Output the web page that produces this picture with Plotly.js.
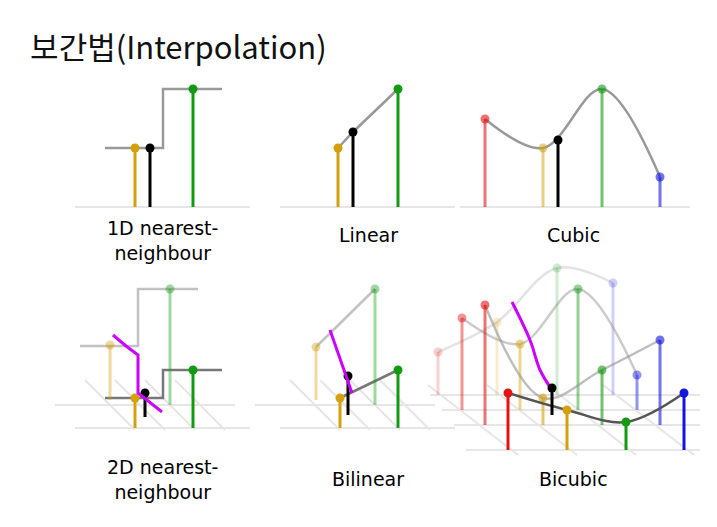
<!DOCTYPE html>
<html><head><meta charset="utf-8">
<script src="https://cdn.plot.ly/plotly-3.0.1.min.js"></script>
<style>body{margin:0}</style></head>
<body><div id="plot" style="width:717px;height:527px"></div>
<script>
// colours
var YEL = "#d4a00c", GRN = "#139a13", RED = "#e31414", BLU = "#1414e0", BLK = "#000", MAG = "#cc00ff", GRY = "#999";

// ---- 1D panels: stem x, top, colour ----
var nnX = [135, 150, 193], nnTop = [148, 148, 89], nnCol = [YEL, BLK, GRN];
var nnStepX = [105, 163, 163, 222], nnStepY = [148, 148, 89, 89];

var linX = [338, 353, 398], linTop = [148, 132, 89], linCol = [YEL, BLK, GRN];

var cubX = [485, 543, 558, 602, 660], cubTop = [119, 148, 140, 89, 177];
var cubCol = [RED, YEL, BLK, GRN, BLU], cubOp = [0.6, 0.5, 1, 0.6, 0.6];
var cubCurveX = [485, 543, 602, 660], cubCurveY = [119, 148, 89, 177];

// ---- 2D nearest ----
var n2X = [110, 170, 135, 193, 145], n2Base = [400, 405, 428, 428, 417], n2Top = [345, 289, 398, 370, 393];
var n2Col = [YEL, GRN, YEL, GRN, BLK], n2Op = [0.4, 0.4, 1, 1, 1];
var n2StepBackX = [80, 138, 138, 198], n2StepBackY = [346, 346, 289, 289];
var n2StepFrontX = [105, 163, 163, 222], n2StepFrontY = [398, 398, 370, 370];
var n2MagX = [113, 126, 138, 138, 162], n2MagY = [335, 346, 355, 393, 412];

// ---- bilinear ----
var blX = [316, 375, 340, 398, 348], blBase = [400, 405, 428, 428, 415], blTop = [347, 289, 398, 370, 376];
var blCol = [YEL, GRN, YEL, GRN, BLK], blOp = [0.4, 0.4, 1, 1, 1];
var blMagX = [330, 352], blMagY = [330, 393];

// ---- bicubic: 4 rows x 4 columns ----
var bcX = [[438, 497, 557, 613], [462, 520, 578, 637], [485, 543, 602, 660], [508, 567, 626, 684]];
var bcTop = [[352, 322, 268, 283], [318, 344, 289, 375], [305, 398, 370, 340], [393, 410, 422, 393]];
var bcBase = [395, 410, 425, 450];
var bcCol = [RED, YEL, GRN, BLU], bcOp = [0.2, 0.45, 0.6, 1];
var bcMagX = [512, 530, 540, 552], bcMagY = [302, 340, 370, 390];

var traces = [];
function line(x, y, color, width, op, shape) {
  traces.push({x: x, y: y, mode: "lines", line: {color: color, width: width, shape: shape || "linear", smoothing: 1},
    opacity: op == null ? 1 : op, hoverinfo: "skip"});
}
function stems(xs, base, tops, cols, ops) {
  for (var i = 0; i < xs.length; i++) {
    var b = Array.isArray(base) ? base[i] : base;
    var op = ops ? ops[i] : 1;
    line([xs[i], xs[i]], [b, tops[i]], cols[i], 3, op);
    traces.push({x: [xs[i]], y: [tops[i]], mode: "markers", marker: {color: cols[i], size: 9}, opacity: op, hoverinfo: "skip"});
  }
}
var LG = "#e6e6e6";
// baselines
line([75, 250], [207, 207], LG, 2); line([280, 455], [207, 207], LG, 2); line([460, 690], [207, 207], LG, 2);
[[55, 75, 85], [255, 280, 290]].forEach(function (p) {
  line([p[0], p[0] + 180], [405, 405], LG, 2); line([p[1], p[1] + 175], [428, 428], LG, 2);
  for (var k = 0; k < 4; k++) line([p[2] + k * 30, p[2] + k * 30 + 50], [380, 430], LG, 2);
});
bcBase.forEach(function (b, r) { line([430 + r * 12, 700], [b, b], LG, 2); });
for (var k = 0; k < 4; k++) line([bcX[0][k] - 10, bcX[3][k] + 10], [385, 455], LG, 2);

// panel 1
line(nnStepX, nnStepY, GRY, 2.5); stems(nnX, 207, nnTop, nnCol);
// panel 2
line([linX[0], linX[1], linX[2]], [linTop[0], linTop[1], linTop[2]], GRY, 2.5); stems(linX, 207, linTop, linCol);
// panel 3
line(cubCurveX, cubCurveY, GRY, 2.5, 1, "spline"); stems(cubX, 207, cubTop, cubCol, cubOp);
// panel 4
line(n2StepBackX, n2StepBackY, GRY, 2.5, 0.6); line(n2StepFrontX, n2StepFrontY, "#777", 2.5);
stems(n2X, n2Base, n2Top, n2Col, n2Op); line(n2MagX, n2MagY, MAG, 3);
// panel 5
line([blX[0], blX[1]], [blTop[0], blTop[1]], GRY, 2.5, 0.6); line([blX[2], blX[3]], [blTop[2], blTop[3]], "#777", 2.5);
stems(blX, blBase, blTop, blCol, blOp); line(blMagX, blMagY, MAG, 3);
// panel 6
for (var r = 0; r < 4; r++) {
  line(bcX[r], bcTop[r], r == 3 ? "#555" : GRY, 2.5, bcOp[r] * 0.9 + 0.1, "spline");
  var bases = bcX[r].map(function () { return bcBase[r]; });
  stems(bcX[r], bases, bcTop[r], bcCol, bcX[r].map(function () { return bcOp[r]; }));
}
line(bcMagX, bcMagY, MAG, 3, 1, "spline");
stems([552], [415], [388], [BLK]);

var lbl = [["1D nearest-<br>neighbour", 162, 240], ["Linear", 368, 235], ["Cubic", 573, 235],
  ["2D nearest-<br>neighbour", 162, 479], ["Bilinear", 368, 479], ["Bicubic", 573, 479]];
var ann = lbl.map(function (l) {
  return {x: l[1], y: l[2], text: l[0], showarrow: false, xref: "x", yref: "y",
    font: {family: "DejaVu Sans", size: 19, color: "#000"}};
});

Plotly.newPlot("plot", traces, {
  width: 717, height: 527, margin: {l: 0, r: 0, t: 0, b: 0}, showlegend: false,
  paper_bgcolor: "#fff", plot_bgcolor: "#fff",
  title: {text: "보간법(Interpolation)", x: 0.042, xanchor: "left", y: 0.93, font: {family: "Noto Sans CJK KR", size: 31, color: "#111"}},
  xaxis: {range: [0, 717], visible: false, fixedrange: true},
  yaxis: {range: [527, 0], visible: false, fixedrange: true},
  annotations: ann
}, {staticPlot: true});
</script></body></html>
